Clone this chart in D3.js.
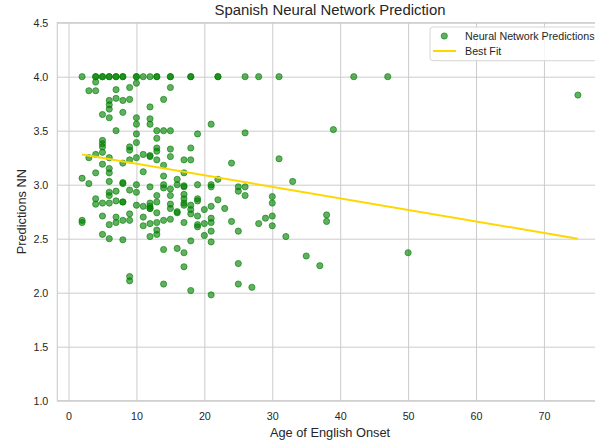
<!DOCTYPE html>
<meta charset="utf-8">
<style>

body {
  margin: 0;
  background: #fff;
}

svg {
  display: block;
  font-family: "Liberation Sans", Arial, sans-serif;
}

.grid line, .grid path {
  stroke: #cccccc;
  stroke-width: 1px;
}

.axis path, .axis line {
  display: none;
}

.axis text {
  font-family: "Liberation Sans", Arial, sans-serif;
  font-size: 10.7px;
  fill: #262626;
}

.dot {
  fill: green;
  fill-opacity: .62;
  stroke: green;
  stroke-opacity: .62;
  stroke-width: 1px;
}

.fit {
  fill: none;
  stroke: #ffd700;
  stroke-width: 2px;
}

.legend text {
  font-size: 10.7px;
  fill: #262626;
}

</style>
<body>

<script src="https://d3js.org/d3.v7.min.js"></script>
<script>

// ages, one entry per point
var ages = [
  2, 4, 4, 5, 5, 6, 6, 7, 7, 8, 8, 10, 10, 11, 12, 13, 13, 15, 15, 18, 18, 22, 22, 26, 28, 31, 42, 47,
  4, 3, 4, 7, 9, 10, 15, 75,
  6, 7, 8, 9, 14, 6, 6, 12, 8, 5, 6, 10, 12,
  12, 10, 21, 7, 13, 14, 15, 19, 10, 26, 39,
  13, 5, 5, 10, 5, 9, 9, 13, 13, 15, 18,
  4, 5, 3, 10, 11, 12, 12, 15, 6, 9, 13, 17, 18, 31, 8, 24, 5, 14, 6,
  4, 6, 11, 17, 14, 2, 16, 22, 33, 3, 6, 8, 8, 10, 14, 16, 19, 21,
  17, 12, 17, 21, 25, 26, 14, 15, 9, 25, 6, 10, 7, 6, 15, 13, 26, 17,
  30, 4, 17, 19, 22, 7, 19, 8, 8, 13, 5, 6, 12, 17, 30, 4, 15, 10, 18, 17, 11, 12, 21,
  12, 12, 15, 23, 18, 20, 16, 13, 16, 9, 18, 5, 19, 30, 38, 7, 11,
  29, 21, 15, 2, 8, 9, 14, 38, 2, 7, 13, 17, 21, 24, 12, 20, 28, 6, 19, 11, 30, 19,
  13, 21, 25, 13, 5, 20, 12, 32, 6, 8, 18, 21, 14, 16, 17, 50, 35, 25, 37, 17, 9, 9, 14, 25, 27, 18, 21
];

// network predictions, same order as ages
var preds = [
  4, 4, 4, 4, 4, 4, 4, 4, 4, 4, 4, 4, 4, 4, 4, 4, 4, 4, 4, 4, 4, 4, 4, 4, 4, 4, 4, 4,
  3.95, 3.87, 3.87, 3.88, 3.90, 3.94, 3.90, 3.83,
  3.78, 3.80, 3.78, 3.79, 3.79, 3.74, 3.70, 3.72, 3.67, 3.65, 3.62, 3.62, 3.61,
  3.56, 3.56, 3.56, 3.50, 3.50, 3.50, 3.50, 3.47, 3.47, 3.48, 3.51,
  3.43, 3.41, 3.38, 3.39, 3.35, 3.35, 3.32, 3.34, 3.31, 3.33, 3.34,
  3.28, 3.30, 3.25, 3.25, 3.28, 3.27, 3.26, 3.26, 3.25, 3.23, 3.23, 3.23, 3.23, 3.24, 3.20, 3.20, 3.19, 3.18, 3.15,
  3.11, 3.11, 3.12, 3.11, 3.08, 3.06, 3.05, 3.05, 3.03, 3.01, 3.03, 3.02, 3.01, 3.00, 3.00, 3.00, 3.00, 3.00,
  2.99, 2.98, 2.98, 2.98, 2.98, 2.98, 2.97, 2.96, 2.95, 2.94, 2.93, 2.93, 2.94, 2.90, 2.90, 2.90, 2.90, 2.91,
  2.89, 2.87, 2.87, 2.87, 2.86, 2.85, 2.85, 2.84, 2.84, 2.84, 2.83, 2.83, 2.83, 2.83, 2.83, 2.82, 2.82, 2.81, 2.81, 2.81, 2.80, 2.80, 2.80,
  2.78, 2.78, 2.78, 2.78, 2.77, 2.77, 2.75, 2.74, 2.74, 2.73, 2.73, 2.71, 2.71, 2.71, 2.72, 2.70, 2.70,
  2.69, 2.69, 2.68, 2.67, 2.67, 2.67, 2.67, 2.66, 2.65, 2.65, 2.65, 2.65, 2.65, 2.66, 2.64, 2.64, 2.64, 2.63, 2.63, 2.62, 2.62, 2.61,
  2.58, 2.57, 2.57, 2.54, 2.54, 2.53, 2.52, 2.52, 2.50, 2.49, 2.48, 2.47, 2.40, 2.41, 2.37, 2.37, 2.34, 2.27, 2.25, 2.24, 2.15, 2.11, 2.08, 2.08, 2.05, 2.02, 1.98
];

// best fit line end points
var fitAges = [2, 75];
var fitPreds = [3.28, 2.50];

var xTicks = [0, 10, 20, 30, 40, 50, 60, 70];
var yTicks = [1.0, 1.5, 2.0, 2.5, 3.0, 3.5, 4.0, 4.5];

var legendLabels = ["Neural Network Predictions", "Best Fit"];

var width = 595,
    height = 442,
    plotLeft = 57.3,
    plotRight = 602.7,
    plotTop = 22.7,
    plotBottom = 400.7;

var svg = d3.select("body")
  .append("svg")
  .attr("width", width)
  .attr("height", height);

var x = d3.scaleLinear()
  .domain([-1.65, 78.65])
  .range([plotLeft, plotRight]);

var y = d3.scaleLinear()
  .domain([1, 4.5])
  .range([plotBottom, plotTop]);

// grid
svg.append("g")
  .attr("class", "grid")
  .attr("transform", "translate(0," + plotBottom + ")")
  .call(d3.axisBottom(x).tickValues(xTicks).tickSize(-(plotBottom - plotTop)).tickFormat(""))
  .select(".domain").remove();

svg.append("g")
  .attr("class", "grid")
  .attr("transform", "translate(" + plotLeft + ",0)")
  .call(d3.axisLeft(y).tickValues(yTicks).tickSize(-(plotRight - plotLeft)).tickFormat(""))
  .select(".domain").remove();

// frame
svg.append("rect")
  .attr("x", plotLeft)
  .attr("y", plotTop)
  .attr("width", plotRight - plotLeft)
  .attr("height", plotBottom - plotTop)
  .attr("fill", "none")
  .attr("stroke", "#cccccc")
  .attr("stroke-width", 1.1);

// tick labels
svg.append("g")
  .attr("class", "axis")
  .attr("transform", "translate(0," + plotBottom + ")")
  .call(d3.axisBottom(x).tickValues(xTicks).tickSize(0).tickPadding(11.5).tickFormat(d3.format("d")));

svg.append("g")
  .attr("class", "axis")
  .attr("transform", "translate(" + plotLeft + ",0)")
  .call(d3.axisLeft(y).tickValues(yTicks).tickSize(0).tickPadding(9).tickFormat(d3.format(".1f")));

// points
svg.append("g")
  .selectAll("circle")
  .data(ages.map(function(a, i) { return [a, preds[i]]; }))
  .enter().append("circle")
  .attr("class", "dot")
  .attr("cx", function(d) { return x(d[0]); })
  .attr("cy", function(d) { return y(d[1]); })
  .attr("r", 3.1);

// best fit
var line = d3.line()
  .x(function(d) { return x(d[0]); })
  .y(function(d) { return y(d[1]); });

svg.append("path")
  .attr("class", "fit")
  .attr("d", line(fitAges.map(function(a, i) { return [a, fitPreds[i]]; })));

// title and axis labels
svg.append("text")
  .attr("x", (plotLeft + plotRight) / 2)
  .attr("y", 15.3)
  .attr("text-anchor", "middle")
  .style("font-size", "14.9px")
  .style("fill", "#262626")
  .text("Spanish Neural Network Prediction");

svg.append("text")
  .attr("x", (plotLeft + plotRight) / 2)
  .attr("y", 437)
  .attr("text-anchor", "middle")
  .style("font-size", "12.8px")
  .style("fill", "#262626")
  .text("Age of English Onset");

svg.append("text")
  .attr("transform", "translate(26," + (plotTop + plotBottom) / 2 + ") rotate(-90)")
  .attr("text-anchor", "middle")
  .style("font-size", "12.8px")
  .style("fill", "#262626")
  .text("Predictions NN");

// legend
var legend = svg.append("g").attr("class", "legend");

legend.append("rect")
  .attr("x", 430)
  .attr("y", 27)
  .attr("width", 168)
  .attr("height", 33.7)
  .attr("rx", 3)
  .attr("fill", "#fff")
  .attr("fill-opacity", 0.8)
  .attr("stroke", "#d6d6d6")
  .attr("stroke-width", 1);

legend.append("circle")
  .attr("class", "dot")
  .attr("cx", 444.3)
  .attr("cy", 36)
  .attr("r", 3.1);

legend.append("line")
  .attr("class", "fit")
  .attr("x1", 433)
  .attr("x2", 456)
  .attr("y1", 51)
  .attr("y2", 51);

legend.selectAll("text.lab")
  .data(legendLabels)
  .enter().append("text")
  .attr("class", "lab")
  .attr("x", 465)
  .attr("y", function(d, i) { return 36 + i * 15; })
  .attr("dy", "0.35em")
  .text(function(d) { return d; });

</script>
</body>
